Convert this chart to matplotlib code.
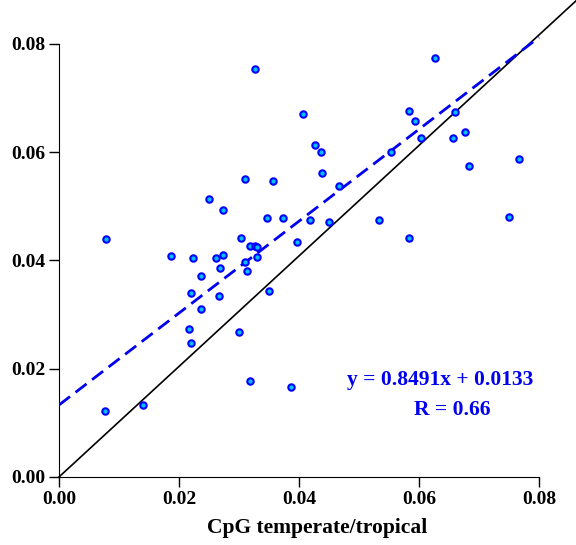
import numpy as np
import matplotlib
matplotlib.use('Agg')
import matplotlib.pyplot as plt

# data
x = [0.0079, 0.0076, 0.0140, 0.0187, 0.0216, 0.0220, 0.0220, 0.0223, 0.0236, 0.0236,
     0.0250, 0.0262, 0.0266, 0.0269, 0.0273, 0.0273, 0.0300, 0.0303, 0.0310, 0.0310,
     0.0314, 0.0319, 0.0319, 0.0326, 0.0326, 0.0330, 0.0330, 0.0347, 0.0350, 0.0356,
     0.0373, 0.0386, 0.0396, 0.0406, 0.0419, 0.0426, 0.0437, 0.0439, 0.0450, 0.0466,
     0.0533, 0.0554, 0.0583, 0.0583, 0.0593, 0.0603, 0.0627, 0.0657, 0.0660, 0.0677,
     0.0683, 0.0750, 0.0767]
y = [0.0440, 0.0121, 0.0133, 0.0408, 0.0274, 0.0247, 0.0340, 0.0404, 0.0371, 0.0310,
     0.0513, 0.0404, 0.0334, 0.0387, 0.0410, 0.0494, 0.0267, 0.0441, 0.0550, 0.0398,
     0.0380, 0.0427, 0.0177, 0.0427, 0.0754, 0.0424, 0.0407, 0.0478, 0.0343, 0.0547,
     0.0478, 0.0167, 0.0434, 0.0670, 0.0474, 0.0614, 0.0600, 0.0561, 0.0471, 0.0537,
     0.0474, 0.0600, 0.0677, 0.0441, 0.0657, 0.0627, 0.0774, 0.0627, 0.0674, 0.0637,
     0.0574, 0.0481, 0.0588]
slope = 0.8491
intercept = 0.0133
r_value = 0.66
ticks = [0.00, 0.02, 0.04, 0.06, 0.08]

plt.rcParams['font.family'] = ['Liberation Serif', 'DejaVu Serif']
plt.rcParams['font.weight'] = 'bold'

fig = plt.figure(figsize=(5.76, 5.45), dpi=100)
ax = fig.add_axes([0.1024, 0.1248, 0.896, 0.874])

ax.spines['right'].set_color('none')
ax.spines['top'].set_color('none')
ax.spines['left'].set_bounds(0, 0.08)
ax.spines['bottom'].set_bounds(0, 0.08)
ax.set_xlim(0, 0.086)
ax.set_ylim(0, 0.088)
ax.set_xticks(ticks)
ax.set_yticks(ticks)
ax.set_xticklabels(['%.2f' % t for t in ticks])
ax.set_yticklabels(['%.2f' % t for t in ticks])
ax.tick_params(direction='out', length=7, width=1, labelsize=14, pad=3)
for lab in ax.get_xticklabels() + ax.get_yticklabels():
    lab.set_fontweight('bold')

# identity line
ax.plot([0, 0.095], [0, 0.097], color='black', lw=1.2, clip_on=False, zorder=2)

# regression line
fx = np.array([0, 0.08])
ax.plot(fx, slope * fx + intercept, color='#0000ee', lw=2, dashes=(5, 2.5), zorder=3)

ax.plot(x, y, 'o', ms=4.6, mfc='#00c0ff', mec='#0000ff', mew=1.5, zorder=4)

ax.text(0.0635, 0.0179, 'y = %.4fx + %.4f' % (slope, intercept), color='#0000ee',
        fontsize=15.5, fontweight='bold', ha='center', va='center')
ax.text(0.0655, 0.0124, 'R = %.2f' % r_value, color='#0000ee',
        fontsize=15.5, fontweight='bold', ha='center', va='center')

ax.set_xlabel('CpG temperate/tropical', fontsize=15.5, fontweight='bold', labelpad=7)

fig.savefig('out.png', dpi=100)
